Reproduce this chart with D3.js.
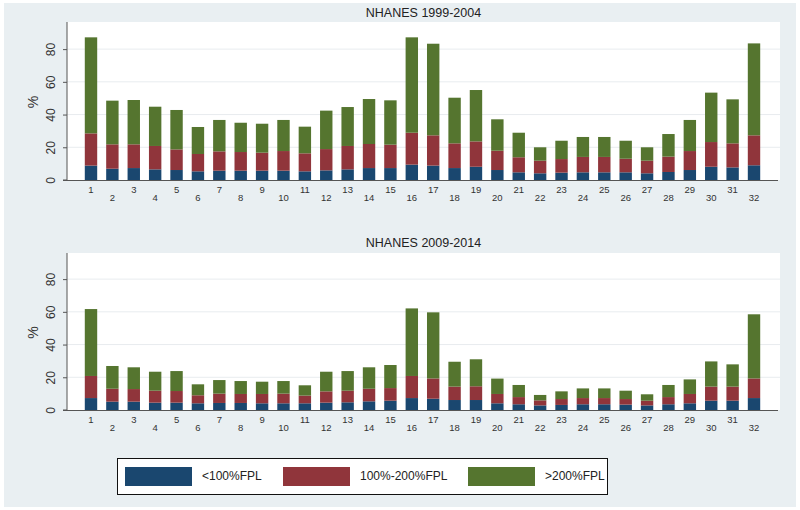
<!DOCTYPE html>
<html><head><meta charset="utf-8">
<script src="https://cdn.jsdelivr.net/npm/d3@7"></script>
<style>html,body{margin:0;padding:0;background:#fff}svg{display:block;font-family:"Liberation Sans",Arial,sans-serif}</style>
</head><body><svg id="c" width="800" height="510"></svg>
<script>
const categories = ["1","2","3","4","5","6","7","8","9","10","11","12","13","14","15","16","17","18","19","20","21","22","23","24","25","26","27","28","29","30","31","32"];
const seriesNames = ["<100%FPL","100%-200%FPL",">200%FPL"];
const seriesColors = ["#1a476f","#90353b","#55752f"];
const yTicks = [0,20,40,60,80];

const below100_1999 = [8.8,6.9,7.3,6.5,6.1,5.3,5.7,5.7,5.7,5.7,5.3,5.9,6.5,7.3,7.3,9.4,8.8,7.3,8.1,6.1,4.7,4.1,4.5,4.7,4.7,4.7,4.1,4.9,6.1,8.1,7.7,9.0];
const mid_1999      = [19.7,14.9,14.5,14.3,12.6,10.6,11.8,11.4,11.0,12.0,11.0,13.0,14.3,14.7,14.3,19.5,18.5,15.1,15.5,11.8,9.2,7.7,8.3,9.4,9.4,8.3,7.7,9.4,11.6,15.1,14.7,18.3];
const above200_1999 = [58.7,26.7,27.1,24.0,24.1,16.5,19.2,17.9,17.7,19.0,16.3,23.5,23.8,27.5,27.1,58.3,56.0,27.9,31.4,19.2,15.0,8.2,11.2,12.2,12.2,11.0,8.2,13.8,19.0,30.2,26.9,56.2];

const below100_2009 = [7.3,5.1,5.1,4.5,4.5,4.1,4.3,4.3,4.1,4.1,4.1,4.5,4.7,5.3,5.7,7.3,6.9,6.1,6.1,4.1,3.5,2.8,3.1,3.5,3.5,3.3,2.8,3.5,4.1,5.7,5.7,7.3];
const mid_2009      = [13.5,7.9,7.7,7.3,7.1,4.9,5.7,5.5,5.7,5.9,4.7,6.9,7.1,7.7,7.7,13.5,12.4,8.2,8.4,5.7,4.4,3.1,3.6,3.8,3.8,3.4,2.9,4.4,5.7,8.6,8.6,12.0];
const above200_2009 = [40.9,13.9,13.3,11.6,12.2,6.7,8.3,7.9,7.5,7.7,6.3,12.0,12.0,13.1,14.1,41.3,40.4,15.2,16.5,9.4,7.4,3.3,4.7,5.9,5.9,5.1,3.9,7.4,8.9,15.4,13.6,39.2];

const panels = [
  {title:"NHANES 1999-2004", series:[below100_1999, mid_1999, above200_1999], base:180, top:22, titleY:14},
  {title:"NHANES 2009-2014", series:[below100_2009, mid_2009, above200_2009], base:410, top:253, titleY:244}
];

const svg = d3.select("#c");
svg.append("rect").attr("x",0).attr("y",0).attr("width",800).attr("height",510).attr("fill","#ffffff");
svg.append("rect").attr("x",4).attr("y",3).attr("width",792).attr("height",504).attr("fill","#e9eff2");

const plotL = 67, plotR = 780;
const x = d3.scaleBand().domain(categories).range([80.3, 764.7]).paddingInner(0.42).paddingOuter(0.21);
const pxPerUnit = 1.636;

panels.forEach(p => {
  const y = d3.scaleLinear().domain([0, 80]).range([p.base, p.base - 80*pxPerUnit]);
  const g = svg.append("g");
  g.append("rect").attr("x",plotL).attr("y",p.top).attr("width",plotR-plotL).attr("height",p.base-p.top).attr("fill","#ffffff");
  g.selectAll(".grid").data(yTicks.filter(t=>t>0)).join("line")
    .attr("x1",plotL).attr("x2",plotR).attr("y1",d=>y(d)).attr("y2",d=>y(d))
    .attr("stroke","#e8ecef").attr("stroke-width",1);
  g.append("text").attr("x",(plotL+plotR)/2).attr("y",p.titleY).attr("text-anchor","middle")
    .attr("dominant-baseline","middle").attr("font-size",12.5).attr("fill","#222").text(p.title);
  const rows = categories.map((c,i)=>({cat:c, s0:p.series[0][i], s1:p.series[1][i], s2:p.series[2][i]}));
  const stacked = d3.stack().keys(["s0","s1","s2"])(rows);
  stacked.forEach((layer, li) => {
    g.append("g").selectAll("rect").data(layer).join("rect")
      .attr("x", d=>x(d.data.cat))
      .attr("width", x.bandwidth())
      .attr("y", d=>y(d[1]))
      .attr("height", d=>y(d[0])-y(d[1]))
      .attr("fill", seriesColors[li]);
  });
  const yAxis = d3.axisLeft(y).tickValues(yTicks).tickSize(4).tickPadding(4).tickFormat(d3.format("d"));
  const ya = g.append("g").attr("transform",`translate(${plotL},0)`).call(yAxis);
  ya.select(".domain").attr("d",`M-4,${p.base}H0V${p.top}`).attr("stroke","#555");
  ya.selectAll(".tick line").attr("stroke","#555");
  ya.selectAll(".tick text").attr("font-size",12).attr("fill","#333")
    .attr("transform","rotate(-90, -16, 0)")
    .attr("x",-16).attr("dy","0.35em").attr("text-anchor","middle")
    .attr("font-family","Liberation Sans, Arial, sans-serif");
  g.append("text").attr("transform",`translate(34,${(p.base+p.top)/2 + 1}) rotate(-90)`)
    .attr("text-anchor","middle").attr("dominant-baseline","middle").attr("font-size",14).attr("fill","#333").text("%");
  const xa = g.append("g").attr("transform",`translate(0,${p.base})`).call(d3.axisBottom(x).tickSize(0).tickPadding(0));
  xa.select(".domain").attr("d",`M${plotL},0.5H${plotR-2}`).attr("stroke","#555");
  xa.selectAll(".tick text").attr("font-size",9.5).attr("fill","#333")
    .attr("font-family","Liberation Sans, Arial, sans-serif")
    .attr("y",(d,i)=> i%2===0 ? 6 : 14).attr("dy","0.71em");
});

const lg = svg.append("g");
lg.append("rect").attr("x",117.5).attr("y",458.5).attr("width",490).attr("height",36).attr("fill","#fff").attr("stroke","#111").attr("stroke-width",1);
const legX = [125, 283, 468];
seriesNames.forEach((n,i)=>{
  lg.append("rect").attr("x",legX[i]).attr("y",467).attr("width",67).attr("height",19).attr("fill",seriesColors[i]);
  lg.append("text").attr("x",legX[i]+77).attr("y",477).attr("dominant-baseline","middle").attr("font-size",12).attr("fill","#222").text(n);
});
</script></body></html>
